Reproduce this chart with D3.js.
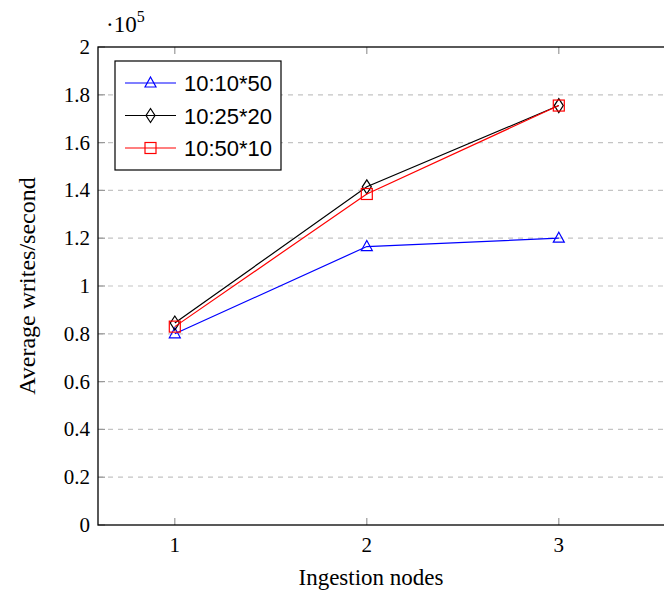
<!DOCTYPE html>
<html>
<head>
<meta charset="utf-8">
<script src="https://cdn.jsdelivr.net/npm/d3@7"></script>
<style>
  body { margin: 0; background: #fff; }
  svg { display: block; }
</style>
</head>
<body>
<div id="chart"></div>
<script>
// Data (y values in units of 10^5)
const nodes = [1, 2, 3];
const seriesNames = ["10:10*50", "10:25*20", "10:50*10"];
const series1 = [0.80, 1.165, 1.20];
const series2 = [0.845, 1.415, 1.755];
const series3 = [0.83, 1.385, 1.755];
const yTicks = [0, 0.2, 0.4, 0.6, 0.8, 1, 1.2, 1.4, 1.6, 1.8, 2];

const width = 664, height = 596;
const margin = { top: 47, right: -10, bottom: 71, left: 98 };

const svg = d3.select("#chart").append("svg")
    .attr("width", width)
    .attr("height", height);

const x = d3.scaleLinear().domain([0.6, 3.6]).range([margin.left, width - margin.right]);
const y = d3.scaleLinear().domain([0, 2]).range([height - margin.bottom, margin.top]);

const serif = "'Liberation Serif', 'DejaVu Serif', serif";
const sans = "'Liberation Sans', 'DejaVu Sans', sans-serif";

// grid lines
svg.append("g").selectAll("line")
    .data(yTicks.filter(d => d > 0 && d < 2))
    .enter().append("line")
    .attr("x1", x(0.6)).attr("x2", x(3.6))
    .attr("y1", d => y(d)).attr("y2", d => y(d))
    .attr("stroke", "#c4c4c4")
    .attr("stroke-width", 1.2)
    .attr("stroke-dasharray", "5,5");

// tick marks (inside, grey) bottom/top and left
const tickG = svg.append("g").attr("stroke", "#999").attr("stroke-width", 1.2);
nodes.forEach(n => {
    tickG.append("line").attr("x1", x(n)).attr("x2", x(n)).attr("y1", y(0)).attr("y2", y(0) - 7);
    tickG.append("line").attr("x1", x(n)).attr("x2", x(n)).attr("y1", y(2)).attr("y2", y(2) + 7);
});
yTicks.forEach(t => {
    tickG.append("line").attr("x1", x(0.6)).attr("x2", x(0.6) + 7).attr("y1", y(t)).attr("y2", y(t));
});

// axis box
svg.append("rect")
    .attr("x", x(0.6)).attr("y", y(2))
    .attr("width", x(3.6) - x(0.6)).attr("height", y(0) - y(2))
    .attr("fill", "none").attr("stroke", "#000").attr("stroke-width", 1.3);

// tick labels
svg.append("g").selectAll("text")
    .data(nodes).enter().append("text")
    .attr("x", d => x(d)).attr("y", y(0) + 27)
    .attr("text-anchor", "middle")
    .attr("font-family", serif).attr("font-size", 21)
    .text(d => d);

svg.append("g").selectAll("text")
    .data(yTicks).enter().append("text")
    .attr("x", x(0.6) - 8).attr("y", d => y(d) + 7)
    .attr("text-anchor", "end")
    .attr("font-family", serif).attr("font-size", 21)
    .text(d => d === 0 || d === 1 || d === 2 ? d : d.toFixed(1));

// exponent label
const expo = svg.append("text")
    .attr("x", 106).attr("y", 32)
    .attr("font-family", serif).attr("font-size", 23);
expo.append("tspan").text("·10");
expo.append("tspan").attr("dy", -10).attr("font-size", 16).text("5");

// axis titles
svg.append("text")
    .attr("x", 371).attr("y", 585)
    .attr("text-anchor", "middle")
    .attr("font-family", serif).attr("font-size", 23)
    .text("Ingestion nodes");

svg.append("text")
    .attr("transform", `translate(35,${y(1)}) rotate(-90)`)
    .attr("text-anchor", "middle")
    .attr("font-family", serif).attr("font-size", 24)
    .text("Average writes/second");

// markers
function drawMarker(g, type, cx, cy, color) {
    if (type === "triangle") {
        g.append("path")
            .attr("d", `M${cx},${cy - 6}L${cx + 5.5},${cy + 4}L${cx - 5.5},${cy + 4}Z`)
            .attr("fill", "none").attr("stroke", color).attr("stroke-width", 1.2);
    } else if (type === "diamond") {
        g.append("path")
            .attr("d", `M${cx},${cy - 7}L${cx + 4.5},${cy}L${cx},${cy + 7}L${cx - 4.5},${cy}Z`)
            .attr("fill", "none").attr("stroke", color).attr("stroke-width", 1.2);
    } else {
        g.append("rect")
            .attr("x", cx - 5.5).attr("y", cy - 5.5).attr("width", 11).attr("height", 11)
            .attr("fill", "none").attr("stroke", color).attr("stroke-width", 1.2);
    }
}

const allSeries = [
    { name: seriesNames[0], values: series1, color: "#0000ff", marker: "triangle" },
    { name: seriesNames[1], values: series2, color: "#000000", marker: "diamond" },
    { name: seriesNames[2], values: series3, color: "#ff0000", marker: "square" }
];

const line = d3.line().x((d, i) => x(nodes[i])).y(d => y(d));

allSeries.forEach(s => {
    const g = svg.append("g");
    g.append("path")
        .datum(s.values)
        .attr("d", line)
        .attr("fill", "none").attr("stroke", s.color).attr("stroke-width", 1.2);
    s.values.forEach((v, i) => drawMarker(g, s.marker, x(nodes[i]), y(v), s.color));
});

// legend
const lg = svg.append("g");
lg.append("rect")
    .attr("x", 115).attr("y", 61).attr("width", 166).attr("height", 109)
    .attr("fill", "#fff").attr("stroke", "#000").attr("stroke-width", 1.2);
allSeries.forEach((s, i) => {
    const ly = 83 + i * 32.5;
    lg.append("line").attr("x1", 125).attr("x2", 176).attr("y1", ly).attr("y2", ly)
        .attr("stroke", s.color).attr("stroke-width", 1.2);
    drawMarker(lg, s.marker, 150.5, ly, s.color);
    lg.append("text")
        .attr("x", 184).attr("y", ly + 8)
        .attr("font-family", sans).attr("font-size", 22)
        .text(s.name);
});
</script>
</body>
</html>
